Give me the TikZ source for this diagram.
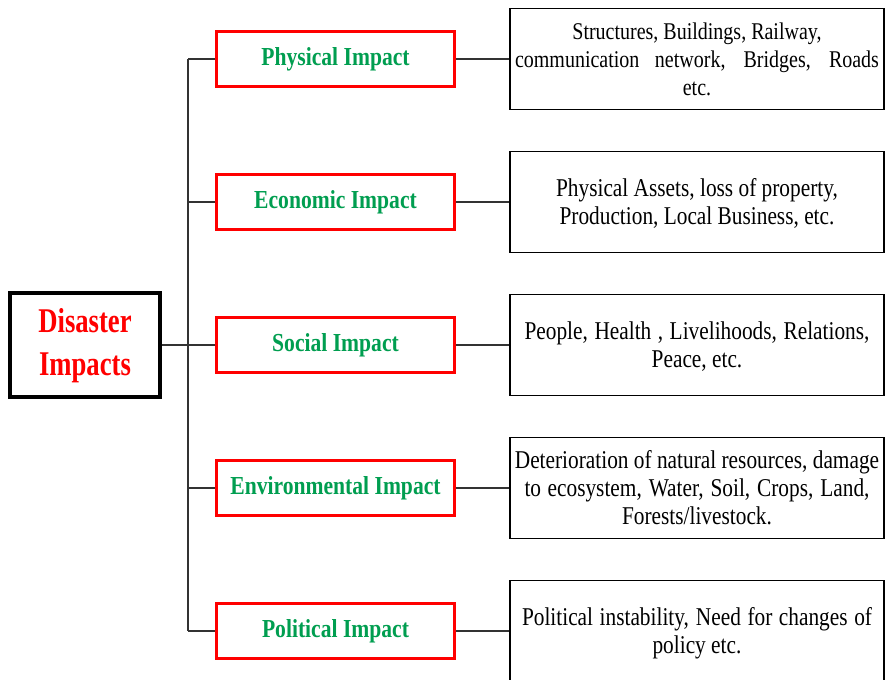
\documentclass[tikz,border=0pt]{standalone}
\usepackage{fontspec}
\setmainfont{Liberation Serif}
\usepackage{graphicx}
\definecolor{impgreen}{RGB}{0,158,80}
\newcommand\vtxt[2]{\scalebox{1}[#1]{\begin{tabular}{@{}c@{}}#2\end{tabular}}}
\newcommand\dtxt[1]{\raisebox{-2.2pt}[\height][\depth]{\scalebox{1}[1.2]{\begin{tabular}{@{}c@{}}#1\end{tabular}}}}
\newcommand\jline[2]{\makebox[#1][s]{#2}}
\begin{document}
\begin{tikzpicture}[x=0.75pt,y=-0.75pt,
  impact/.style={draw=red,line width=2.2pt,minimum width=179pt,minimum height=41pt,inner sep=0pt,text=impgreen,font=\fontsize{16.2}{19}\selectfont\bfseries},
  detail/.style={draw=black,line width=1pt,minimum width=280.5pt,minimum height=75.75pt,inner sep=0pt,font=\fontsize{16}{17.6}\selectfont},
  root/.style={draw=black,line width=2.6pt,minimum width=112.5pt,minimum height=78pt,inner sep=0pt,text=red,font=\fontsize{20}{24.8}\selectfont\bfseries},
  link/.style={draw=black!80,line width=0.9pt}]
\useasboundingbox (0,0) rectangle (886,680);
\clip (0,0) rectangle (886,680);
\fill[white] (0,0) rectangle (886,680);

\node[root] (root) at (85,345) {\vtxt{1.3}{Disaster\\Impacts}};

\node[impact] (i1) at (335.5,59) {\vtxt{1.2}{Physical Impact}};
\node[impact] (i2) at (335.5,202) {\vtxt{1.2}{Economic Impact}};
\node[impact] (i3) at (335.5,345) {\vtxt{1.2}{Social Impact}};
\node[impact] (i4) at (335.5,488) {\vtxt{1.2}{Environmental Impact}};
\node[impact] (i5) at (335.5,631) {\vtxt{1.2}{Political Impact}};

\node[detail,font=\fontsize{15}{17.6}\selectfont] (d1) at (697,59) {\dtxt{Structures, Buildings, Railway,\\\jline{273pt}{communication network, Bridges, Roads}\\etc.}};
\node[detail] (d2) at (697,202) {\dtxt{Physical Assets, loss of property,\\Production, Local Business, etc.}};
\node[detail] (d3) at (697,345) {\dtxt{\jline{258.75pt}{People, Health , Livelihoods, Relations,}\\Peace, etc.}};
\node[detail] (d4) at (697,488) {\dtxt{Deterioration of natural resources, damage\\\jline{258.75pt}{to ecosystem, Water, Soil, Crops, Land,}\\Forests/livestock.}};
\node[detail] (d5) at (697,631) {\dtxt{\jline{262.5pt}{Political instability, Need for changes of}\\policy etc.}};

\coordinate (t1) at (188,59);
\coordinate (t2) at (188,202);
\coordinate (t3) at (188,345);
\coordinate (t4) at (188,488);
\coordinate (t5) at (188,631);

\draw[link] (t1) -- (t5);
\draw[link] (root.east) -- (t3);
\foreach \k in {1,...,5} {
  \draw[link] (t\k) -- (i\k.west);
  \draw[link] (i\k.east) -- (d\k.west);
}
\end{tikzpicture}
\end{document}
